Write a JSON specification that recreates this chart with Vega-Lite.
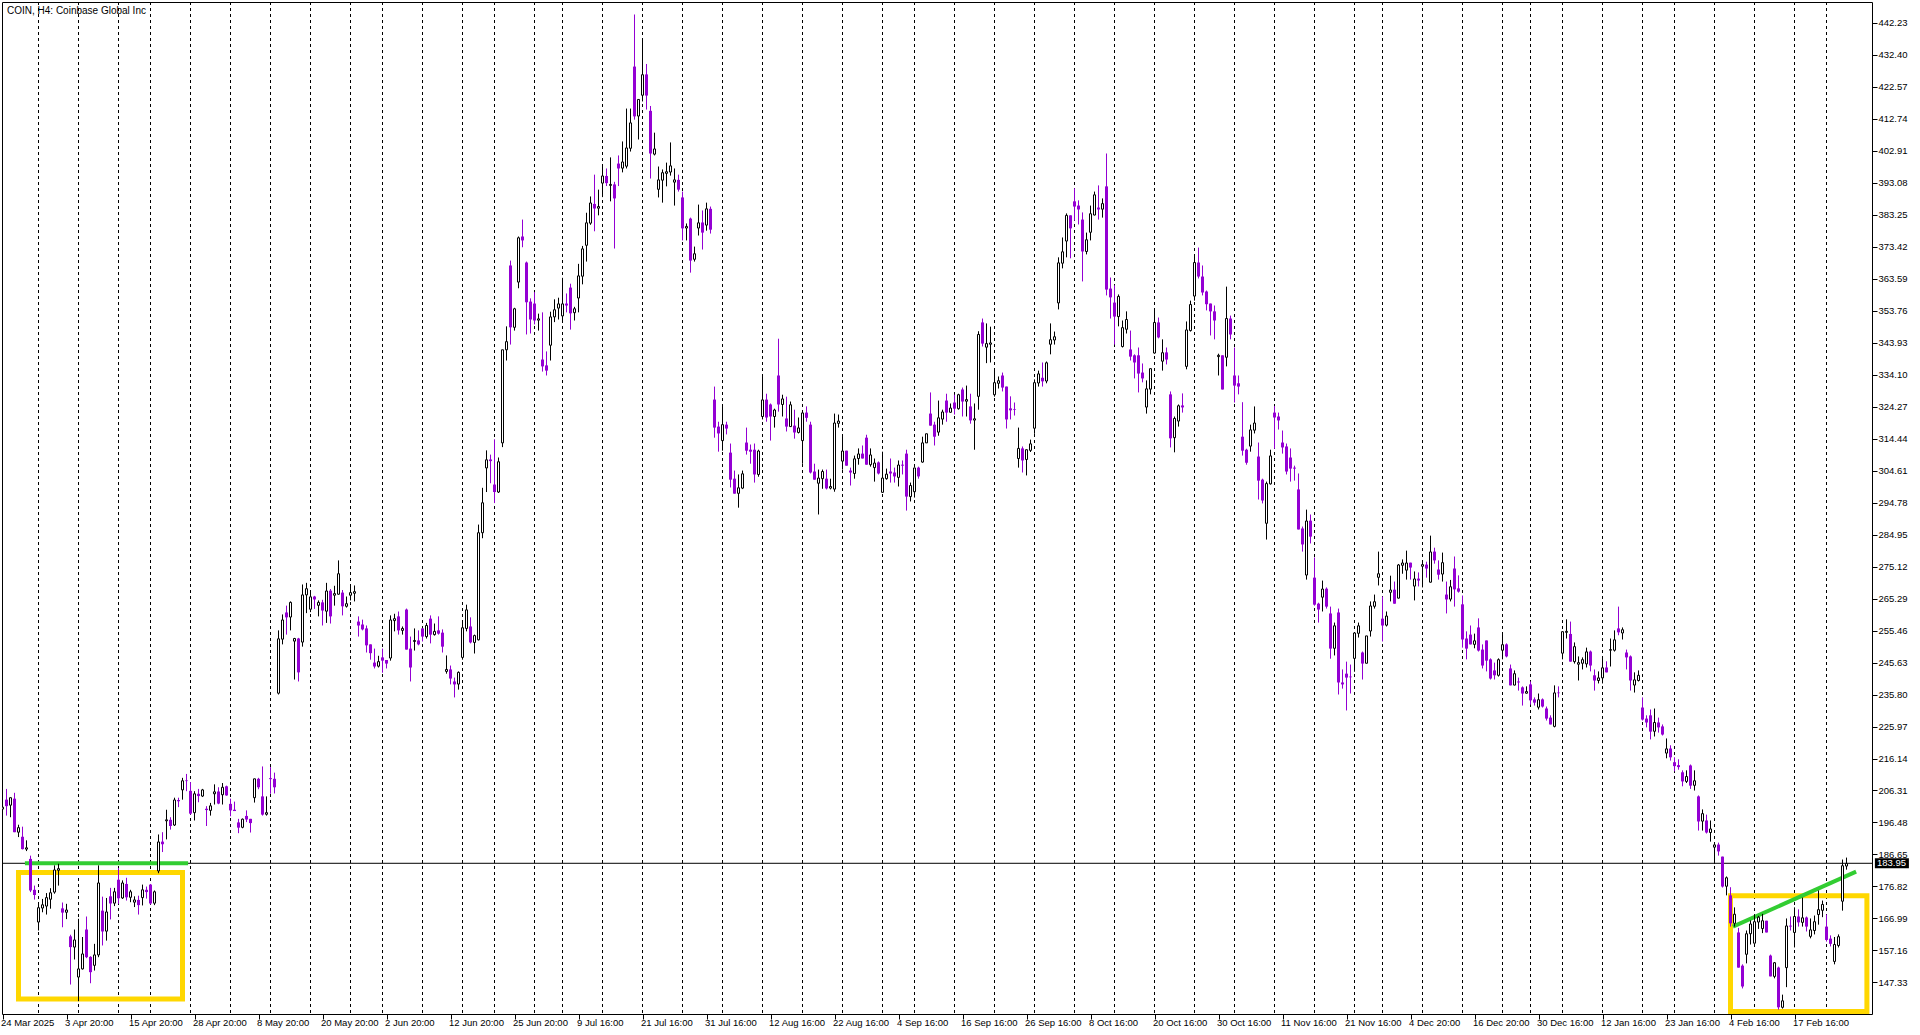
{"$schema":"https://vega.github.io/schema/vega-lite/v6.json",
"width":1870,"height":1012,"autosize":"none","padding":{"left":2,"top":2,"right":48,"bottom":21},"background":"#ffffff",
"config":{"view":{"stroke":"#000000","strokeWidth":1},"axis":{"labelOverlap":false,"labelBound":false,"labelFlush":false}},
"title":{"text":"COIN, H4:  Coinbase Global Inc","anchor":"start","frame":"group","offset":0,"dx":5,"dy":14,"font":"Liberation Sans","fontSize":10,"fontWeight":"normal","color":"#000000"},
"datasets":{"bars":[
{"i":0,"o":200.6,"h":201.4,"l":200.5,"c":201.2},{"i":1,"o":203.5,"h":206.8,"l":198.6,"c":201.5},{"i":2,"o":201.8,"h":204.1,"l":198.1,"c":204.1},{"i":3,"o":203.8,"h":205.6,"l":193.5,"c":193.5},{"i":4,"o":193.5,"h":195.8,"l":192.0,"c":194.9},{"i":5,"o":192.1,"h":195.2,"l":188.2,"c":188.3},{"i":6,"o":188.3,"h":191.0,"l":187.7,"c":188.7},{"i":7,"o":185.3,"h":186.3,"l":175.1,"c":175.6},{"i":8,"o":175.8,"h":177.1,"l":172.8,"c":174.2},{"i":9,"o":165.9,"h":171.8,"l":163.3,"c":170.3},
{"i":10,"o":170.2,"h":173.0,"l":168.9,"c":171.2},{"i":11,"o":170.8,"h":174.8,"l":168.2,"c":173.4},{"i":12,"o":172.9,"h":176.3,"l":170.0,"c":174.9},{"i":13,"o":175.1,"h":183.3,"l":174.6,"c":181.9},{"i":14,"o":181.8,"h":183.8,"l":177.1,"c":182.3},{"i":15,"o":170.1,"h":171.9,"l":164.3,"c":168.8},{"i":16,"o":168.9,"h":171.5,"l":166.8,"c":169.6},{"i":17,"o":161.5,"h":162.0,"l":146.7,"c":158.2},{"i":18,"o":158.2,"h":163.6,"l":154.4,"c":160.4},{"i":19,"o":149.0,"h":166.9,"l":141.6,"c":151.5},
{"i":20,"o":151.5,"h":161.3,"l":151.3,"c":156.1},{"i":21,"o":163.6,"h":167.6,"l":154.8,"c":155.1},{"i":22,"o":155.2,"h":155.4,"l":147.1,"c":150.5},{"i":23,"o":152.6,"h":159.2,"l":151.0,"c":155.8},{"i":24,"o":155.8,"h":183.3,"l":155.1,"c":177.9},{"i":25,"o":169.4,"h":173.7,"l":158.7,"c":163.0},{"i":26,"o":163.1,"h":173.3,"l":160.2,"c":169.0},{"i":27,"o":173.8,"h":176.4,"l":166.7,"c":171.6},{"i":28,"o":171.7,"h":176.4,"l":170.8,"c":175.2},{"i":29,"o":178.9,"h":182.5,"l":171.5,"c":173.2},
{"i":30,"o":173.3,"h":178.7,"l":173.0,"c":177.9},{"i":31,"o":177.6,"h":179.5,"l":172.5,"c":173.5},{"i":32,"o":173.5,"h":175.8,"l":172.0,"c":175.2},{"i":33,"o":172.0,"h":173.8,"l":170.5,"c":172.7},{"i":34,"o":172.7,"h":174.0,"l":168.2,"c":171.1},{"i":35,"o":173.4,"h":177.4,"l":171.0,"c":175.8},{"i":36,"o":175.8,"h":176.8,"l":173.1,"c":175.1},{"i":37,"o":177.4,"h":177.6,"l":171.3,"c":171.6},{"i":38,"o":171.7,"h":175.6,"l":171.1,"c":175.2},{"i":39,"o":181.6,"h":192.8,"l":180.9,"c":190.5},
{"i":40,"o":190.6,"h":193.5,"l":187.4,"c":189.8},{"i":41,"o":197.0,"h":200.4,"l":191.3,"c":197.3},{"i":42,"o":197.3,"h":198.1,"l":194.3,"c":195.4},{"i":43,"o":195.7,"h":204.1,"l":195.4,"c":203.4},{"i":44,"o":203.4,"h":204.1,"l":201.2,"c":203.0},{"i":45,"o":206.5,"h":210.2,"l":203.5,"c":209.3},{"i":46,"o":209.4,"h":211.4,"l":206.1,"c":209.2},{"i":47,"o":206.2,"h":208.9,"l":198.9,"c":199.2},{"i":48,"o":199.5,"h":206.1,"l":197.1,"c":205.3},{"i":49,"o":205.3,"h":206.8,"l":202.7,"c":204.6},
{"i":50,"o":204.6,"h":206.8,"l":204.3,"c":206.5},{"i":51,"o":200.7,"h":201.5,"l":195.4,"c":200.3},{"i":52,"o":200.2,"h":202.5,"l":198.6,"c":201.6},{"i":53,"o":205.3,"h":208.2,"l":202.0,"c":205.9},{"i":54,"o":206.0,"h":207.3,"l":202.1,"c":202.3},{"i":55,"o":205.0,"h":208.6,"l":202.0,"c":207.3},{"i":56,"o":207.6,"h":207.8,"l":204.7,"c":204.8},{"i":57,"o":202.2,"h":203.8,"l":198.4,"c":200.2},{"i":58,"o":200.4,"h":202.9,"l":200.0,"c":200.0},{"i":59,"o":196.5,"h":197.6,"l":193.2,"c":194.9},
{"i":60,"o":195.0,"h":197.7,"l":194.7,"c":197.5},{"i":61,"o":198.5,"h":200.2,"l":196.6,"c":197.4},{"i":62,"o":197.6,"h":197.6,"l":193.4,"c":196.3},{"i":63,"o":204.1,"h":209.9,"l":202.6,"c":209.9},{"i":64,"o":209.9,"h":210.2,"l":206.7,"c":207.3},{"i":65,"o":204.5,"h":213.7,"l":198.6,"c":198.9},{"i":66,"o":199.0,"h":204.5,"l":198.6,"c":199.5},{"i":67,"o":210.1,"h":213.5,"l":205.3,"c":209.8},{"i":68,"o":209.9,"h":211.8,"l":205.4,"c":207.3},{"i":69,"o":236.2,"h":255.5,"l":235.8,"c":252.9},
{"i":70,"o":252.8,"h":260.4,"l":251.2,"c":258.7},{"i":71,"o":261.0,"h":263.1,"l":254.2,"c":259.5},{"i":72,"o":259.6,"h":264.4,"l":255.5,"c":264.1},{"i":73,"o":252.2,"h":253.2,"l":240.4,"c":253.0},{"i":74,"o":253.0,"h":253.2,"l":239.8,"c":242.6},{"i":75,"o":251.9,"h":269.6,"l":250.5,"c":266.4},{"i":76,"o":266.4,"h":270.1,"l":260.8,"c":268.3},{"i":77,"o":262.0,"h":267.7,"l":261.1,"c":265.8},{"i":78,"o":265.9,"h":266.1,"l":262.1,"c":265.0},{"i":79,"o":263.2,"h":264.7,"l":259.8,"c":264.1},
{"i":80,"o":264.1,"h":264.9,"l":257.0,"c":261.6},{"i":81,"o":261.4,"h":270.1,"l":257.8,"c":267.6},{"i":82,"o":267.7,"h":268.2,"l":257.6,"c":259.8},{"i":83,"o":266.3,"h":269.2,"l":263.1,"c":266.8},{"i":84,"o":266.6,"h":277.0,"l":266.5,"c":272.9},{"i":85,"o":267.1,"h":267.9,"l":260.1,"c":262.9},{"i":86,"o":262.9,"h":265.9,"l":262.5,"c":263.7},{"i":87,"o":266.3,"h":269.5,"l":264.7,"c":267.1},{"i":88,"o":266.9,"h":269.3,"l":264.4,"c":267.4},{"i":89,"o":258.2,"h":259.8,"l":253.6,"c":257.0},
{"i":90,"o":257.3,"h":258.8,"l":255.5,"c":255.8},{"i":91,"o":256.1,"h":257.0,"l":248.7,"c":250.9},{"i":92,"o":251.2,"h":251.2,"l":246.5,"c":248.5},{"i":93,"o":245.6,"h":249.9,"l":243.8,"c":244.4},{"i":94,"o":244.5,"h":247.7,"l":244.1,"c":245.9},{"i":95,"o":247.2,"h":249.9,"l":242.5,"c":246.2},{"i":96,"o":246.4,"h":246.4,"l":243.8,"c":245.3},{"i":97,"o":247.0,"h":260.1,"l":246.2,"c":258.7},{"i":98,"o":258.5,"h":260.6,"l":255.2,"c":259.1},{"i":99,"o":259.8,"h":261.3,"l":254.2,"c":255.5},
{"i":100,"o":255.5,"h":256.7,"l":254.2,"c":256.1},{"i":101,"o":261.9,"h":262.2,"l":249.6,"c":249.6},{"i":102,"o":249.9,"h":253.6,"l":239.8,"c":244.1},{"i":103,"o":252.1,"h":256.1,"l":249.3,"c":252.4},{"i":104,"o":252.4,"h":255.5,"l":250.9,"c":251.2},{"i":105,"o":256.1,"h":256.1,"l":252.1,"c":253.6},{"i":106,"o":253.6,"h":257.8,"l":253.0,"c":257.0},{"i":107,"o":259.1,"h":260.1,"l":251.5,"c":254.2},{"i":108,"o":254.2,"h":257.6,"l":253.9,"c":255.2},{"i":109,"o":255.5,"h":259.8,"l":254.2,"c":254.5},
{"i":110,"o":254.8,"h":255.8,"l":248.7,"c":250.5},{"i":111,"o":242.9,"h":247.8,"l":242.2,"c":243.5},{"i":112,"o":243.5,"h":244.7,"l":238.9,"c":240.7},{"i":113,"o":239.8,"h":241.0,"l":234.9,"c":238.9},{"i":114,"o":239.0,"h":242.9,"l":237.3,"c":242.6},{"i":115,"o":247.2,"h":258.5,"l":246.5,"c":256.3},{"i":116,"o":256.1,"h":263.4,"l":255.2,"c":261.8},{"i":117,"o":256.7,"h":259.5,"l":251.5,"c":251.8},{"i":118,"o":251.8,"h":254.2,"l":248.4,"c":253.9},{"i":119,"o":252.6,"h":288.0,"l":252.4,"c":285.5},
{"i":120,"o":285.5,"h":299.3,"l":283.8,"c":294.7},{"i":121,"o":305.4,"h":310.8,"l":298.0,"c":307.9},{"i":122,"o":308.0,"h":309.5,"l":300.7,"c":307.5},{"i":123,"o":300.3,"h":314.2,"l":294.6,"c":298.0},{"i":124,"o":298.0,"h":308.6,"l":297.7,"c":307.3},{"i":125,"o":313.1,"h":341.7,"l":311.8,"c":341.7},{"i":126,"o":341.7,"h":348.9,"l":338.4,"c":344.2},{"i":127,"o":367.6,"h":369.1,"l":343.3,"c":348.6},{"i":128,"o":348.6,"h":354.6,"l":347.6,"c":354.3},{"i":129,"o":362.5,"h":376.5,"l":360.6,"c":376.1},
{"i":130,"o":376.5,"h":381.7,"l":373.2,"c":375.3},{"i":131,"o":368.5,"h":368.8,"l":346.4,"c":356.3},{"i":132,"o":356.5,"h":357.5,"l":346.7,"c":351.0},{"i":133,"o":355.9,"h":359.4,"l":349.5,"c":350.7},{"i":134,"o":350.8,"h":352.8,"l":347.6,"c":351.2},{"i":135,"o":338.7,"h":353.2,"l":335.0,"c":336.6},{"i":136,"o":336.9,"h":341.2,"l":333.8,"c":335.3},{"i":137,"o":343.1,"h":353.4,"l":338.4,"c":351.8},{"i":138,"o":351.8,"h":357.2,"l":350.2,"c":354.0},{"i":139,"o":354.5,"h":357.7,"l":351.0,"c":355.8},
{"i":140,"o":352.1,"h":363.8,"l":350.0,"c":355.8},{"i":141,"o":355.9,"h":359.0,"l":353.2,"c":355.3},{"i":142,"o":360.8,"h":362.0,"l":347.9,"c":352.9},{"i":143,"o":353.1,"h":354.9,"l":350.7,"c":354.3},{"i":144,"o":357.6,"h":368.1,"l":353.2,"c":364.4},{"i":145,"o":364.3,"h":373.6,"l":361.8,"c":372.7},{"i":146,"o":373.8,"h":383.8,"l":368.8,"c":380.7},{"i":147,"o":380.6,"h":388.8,"l":380.1,"c":386.8},{"i":148,"o":386.5,"h":395.5,"l":378.1,"c":385.1},{"i":149,"o":385.2,"h":390.9,"l":383.0,"c":385.7},
{"i":150,"o":392.9,"h":398.6,"l":388.6,"c":395.1},{"i":151,"o":395.1,"h":397.4,"l":392.0,"c":392.9},{"i":152,"o":392.2,"h":400.8,"l":387.3,"c":392.5},{"i":153,"o":392.5,"h":393.3,"l":372.8,"c":388.2},{"i":154,"o":398.9,"h":401.4,"l":392.0,"c":397.4},{"i":155,"o":397.5,"h":405.7,"l":396.2,"c":399.4},{"i":156,"o":398.1,"h":415.8,"l":397.4,"c":403.7},{"i":157,"o":403.6,"h":415.8,"l":402.6,"c":411.4},{"i":158,"o":428.7,"h":444.7,"l":412.4,"c":413.4},{"i":159,"o":413.5,"h":418.6,"l":406.3,"c":418.6},
{"i":160,"o":419.9,"h":437.3,"l":418.0,"c":426.2},{"i":161,"o":426.3,"h":429.5,"l":415.5,"c":419.8},{"i":162,"o":415.1,"h":416.6,"l":394.3,"c":402.0},{"i":163,"o":401.8,"h":408.4,"l":401.4,"c":403.4},{"i":164,"o":391.0,"h":398.0,"l":388.5,"c":393.9},{"i":165,"o":393.8,"h":397.1,"l":386.9,"c":396.1},{"i":166,"o":395.9,"h":399.2,"l":391.9,"c":396.4},{"i":167,"o":396.3,"h":405.4,"l":395.2,"c":398.2},{"i":168,"o":393.2,"h":397.4,"l":386.0,"c":393.9},{"i":169,"o":393.9,"h":395.5,"l":390.3,"c":390.9},
{"i":170,"o":388.5,"h":390.3,"l":375.3,"c":379.0},{"i":171,"o":379.1,"h":380.5,"l":375.3,"c":379.6},{"i":172,"o":382.0,"h":382.3,"l":365.4,"c":369.1},{"i":173,"o":369.5,"h":373.4,"l":368.8,"c":371.2},{"i":174,"o":379.1,"h":386.3,"l":376.8,"c":380.7},{"i":175,"o":380.8,"h":384.5,"l":372.5,"c":377.7},{"i":176,"o":380.0,"h":386.9,"l":378.3,"c":385.0},{"i":177,"o":385.0,"h":385.7,"l":377.4,"c":378.6},{"i":178,"o":326.4,"h":330.4,"l":314.7,"c":317.8},{"i":179,"o":318.1,"h":319.6,"l":310.4,"c":316.0},
{"i":180,"o":313.8,"h":324.9,"l":310.7,"c":318.7},{"i":181,"o":318.7,"h":319.6,"l":315.7,"c":317.5},{"i":182,"o":310.1,"h":312.9,"l":299.4,"c":301.8},{"i":183,"o":302.1,"h":304.6,"l":297.5,"c":297.5},{"i":184,"o":297.6,"h":303.4,"l":293.2,"c":299.3},{"i":185,"o":299.2,"h":304.6,"l":298.9,"c":303.6},{"i":186,"o":313.2,"h":317.8,"l":309.5,"c":310.7},{"i":187,"o":311.0,"h":312.6,"l":306.7,"c":310.4},{"i":188,"o":311.0,"h":312.9,"l":300.9,"c":303.4},{"i":189,"o":303.4,"h":311.0,"l":302.7,"c":310.6},
{"i":190,"o":321.2,"h":334.1,"l":320.3,"c":326.3},{"i":191,"o":326.4,"h":328.2,"l":319.6,"c":320.9},{"i":192,"o":324.9,"h":325.2,"l":313.8,"c":321.2},{"i":193,"o":321.2,"h":323.6,"l":317.8,"c":323.2},{"i":194,"o":333.8,"h":345.1,"l":322.7,"c":324.9},{"i":195,"o":324.9,"h":327.9,"l":321.2,"c":326.6},{"i":196,"o":320.6,"h":327.3,"l":316.6,"c":318.1},{"i":197,"o":318.1,"h":325.8,"l":318.1,"c":324.8},{"i":198,"o":318.4,"h":323.3,"l":314.4,"c":316.3},{"i":199,"o":316.3,"h":320.9,"l":316.0,"c":317.7},
{"i":200,"o":313.8,"h":322.7,"l":306.7,"c":322.3},{"i":201,"o":322.4,"h":324.3,"l":319.6,"c":320.8},{"i":202,"o":318.7,"h":319.6,"l":303.7,"c":304.0},{"i":203,"o":304.3,"h":306.7,"l":301.8,"c":301.8},{"i":204,"o":300.7,"h":304.9,"l":291.1,"c":302.3},{"i":205,"o":302.1,"h":304.9,"l":299.0,"c":304.3},{"i":206,"o":302.1,"h":304.9,"l":298.8,"c":299.1},{"i":207,"o":299.2,"h":302.1,"l":298.8,"c":299.7},{"i":208,"o":298.9,"h":322.1,"l":298.1,"c":319.2},{"i":209,"o":319.1,"h":321.8,"l":317.8,"c":319.8},
{"i":210,"o":307.5,"h":315.7,"l":304.9,"c":310.6},{"i":211,"o":310.7,"h":310.7,"l":306.1,"c":306.1},{"i":212,"o":304.6,"h":305.5,"l":300.0,"c":304.0},{"i":213,"o":303.7,"h":309.2,"l":302.1,"c":308.2},{"i":214,"o":308.3,"h":311.4,"l":306.4,"c":309.7},{"i":215,"o":309.8,"h":312.3,"l":308.3,"c":308.3},{"i":216,"o":314.7,"h":315.6,"l":306.4,"c":306.4},{"i":217,"o":306.4,"h":311.4,"l":305.8,"c":309.4},{"i":218,"o":305.5,"h":308.3,"l":301.2,"c":306.9},{"i":219,"o":307.1,"h":307.4,"l":303.4,"c":303.7},
{"i":220,"o":297.9,"h":310.4,"l":297.8,"c":302.3},{"i":221,"o":302.1,"h":305.2,"l":301.8,"c":303.5},{"i":222,"o":304.3,"h":308.3,"l":300.9,"c":303.7},{"i":223,"o":304.0,"h":305.5,"l":300.9,"c":302.8},{"i":224,"o":302.5,"h":307.7,"l":299.7,"c":306.3},{"i":225,"o":306.4,"h":307.7,"l":303.4,"c":306.1},{"i":226,"o":309.8,"h":311.0,"l":292.3,"c":296.6},{"i":227,"o":296.6,"h":300.9,"l":295.1,"c":300.0},{"i":228,"o":298.1,"h":305.5,"l":296.3,"c":305.4},{"i":229,"o":305.5,"h":305.8,"l":302.1,"c":302.8},
{"i":230,"o":307.2,"h":315.0,"l":307.0,"c":313.1},{"i":231,"o":313.1,"h":315.9,"l":313.1,"c":315.9},{"i":232,"o":322.1,"h":328.6,"l":318.4,"c":318.4},{"i":233,"o":318.7,"h":319.6,"l":312.3,"c":315.0},{"i":234,"o":316.4,"h":326.1,"l":315.3,"c":320.8},{"i":235,"o":320.4,"h":323.3,"l":318.7,"c":322.6},{"i":236,"o":326.1,"h":328.2,"l":319.6,"c":322.4},{"i":237,"o":322.5,"h":325.2,"l":322.4,"c":323.8},{"i":238,"o":325.5,"h":327.9,"l":321.8,"c":323.6},{"i":239,"o":323.6,"h":328.2,"l":323.3,"c":327.9},
{"i":240,"o":329.5,"h":330.1,"l":321.2,"c":325.8},{"i":241,"o":325.9,"h":330.7,"l":321.2,"c":326.4},{"i":242,"o":324.3,"h":328.2,"l":319.0,"c":320.0},{"i":243,"o":320.1,"h":325.2,"l":311.0,"c":320.5},{"i":244,"o":327.4,"h":347.4,"l":323.3,"c":346.4},{"i":245,"o":350.1,"h":351.3,"l":342.7,"c":343.6},{"i":246,"o":342.5,"h":349.8,"l":337.6,"c":343.6},{"i":247,"o":343.4,"h":348.8,"l":337.8,"c":343.8},{"i":248,"o":327.9,"h":335.9,"l":327.3,"c":331.6},{"i":249,"o":331.4,"h":333.5,"l":329.8,"c":332.2},
{"i":250,"o":333.8,"h":334.7,"l":328.9,"c":330.1},{"i":251,"o":330.4,"h":330.4,"l":317.5,"c":320.3},{"i":252,"o":323.7,"h":327.4,"l":320.3,"c":323.1},{"i":253,"o":323.4,"h":325.5,"l":321.5,"c":323.2},{"i":254,"o":308.3,"h":317.8,"l":305.5,"c":311.4},{"i":255,"o":311.4,"h":312.0,"l":304.0,"c":307.7},{"i":256,"o":308.0,"h":311.0,"l":303.1,"c":311.0},{"i":257,"o":310.8,"h":314.1,"l":310.3,"c":312.8},{"i":258,"o":317.6,"h":332.6,"l":315.9,"c":331.6},{"i":259,"o":331.5,"h":335.3,"l":330.4,"c":334.3},
{"i":260,"o":333.1,"h":337.8,"l":330.4,"c":332.0},{"i":261,"o":332.1,"h":338.1,"l":331.4,"c":337.7},{"i":262,"o":343.4,"h":349.8,"l":340.3,"c":344.8},{"i":263,"o":344.7,"h":347.3,"l":343.3,"c":345.7},{"i":264,"o":356.1,"h":370.1,"l":354.1,"c":368.4},{"i":265,"o":368.3,"h":376.2,"l":366.7,"c":371.8},{"i":266,"o":375.1,"h":383.6,"l":370.1,"c":383.0},{"i":267,"o":383.0,"h":383.0,"l":369.8,"c":379.0},{"i":268,"o":387.3,"h":391.3,"l":381.4,"c":385.7},{"i":269,"o":386.0,"h":387.6,"l":380.2,"c":384.8},
{"i":270,"o":381.7,"h":383.9,"l":362.7,"c":371.9},{"i":271,"o":371.9,"h":377.7,"l":371.0,"c":375.5},{"i":272,"o":377.8,"h":386.0,"l":375.3,"c":383.5},{"i":273,"o":383.1,"h":390.3,"l":383.0,"c":389.3},{"i":274,"o":385.4,"h":392.2,"l":381.7,"c":384.8},{"i":275,"o":384.9,"h":388.2,"l":382.3,"c":386.6},{"i":276,"o":391.9,"h":402.0,"l":358.4,"c":360.2},{"i":277,"o":360.5,"h":363.9,"l":351.3,"c":357.8},{"i":278,"o":356.2,"h":361.5,"l":343.3,"c":351.9},{"i":279,"o":351.9,"h":358.7,"l":348.9,"c":358.1},
{"i":280,"o":342.7,"h":350.7,"l":342.4,"c":348.5},{"i":281,"o":348.0,"h":353.5,"l":346.7,"c":351.0},{"i":282,"o":341.8,"h":347.6,"l":338.4,"c":339.6},{"i":283,"o":340.0,"h":340.3,"l":332.9,"c":337.8},{"i":284,"o":340.0,"h":342.4,"l":328.6,"c":334.4},{"i":285,"o":334.7,"h":337.5,"l":331.7,"c":332.9},{"i":286,"o":324.1,"h":332.3,"l":322.1,"c":329.7},{"i":287,"o":329.6,"h":336.0,"l":328.0,"c":335.9},{"i":288,"o":340.7,"h":354.4,"l":340.5,"c":350.1},{"i":289,"o":350.1,"h":351.6,"l":345.2,"c":345.5},
{"i":290,"o":338.2,"h":344.9,"l":335.3,"c":340.8},{"i":291,"o":340.9,"h":342.4,"l":337.2,"c":338.7},{"i":292,"o":328.0,"h":328.9,"l":311.7,"c":314.5},{"i":293,"o":314.7,"h":321.2,"l":310.2,"c":320.6},{"i":294,"o":319.8,"h":324.9,"l":318.1,"c":324.5},{"i":295,"o":324.6,"h":328.3,"l":322.4,"c":324.0},{"i":296,"o":336.6,"h":350.4,"l":335.7,"c":347.8},{"i":297,"o":347.6,"h":356.8,"l":347.3,"c":355.6},{"i":298,"o":358.2,"h":371.0,"l":356.8,"c":368.5},{"i":299,"o":368.5,"h":373.1,"l":363.6,"c":364.2},
{"i":300,"o":364.2,"h":367.6,"l":358.4,"c":359.3},{"i":301,"o":359.6,"h":359.9,"l":353.8,"c":355.7},{"i":302,"o":355.9,"h":355.9,"l":346.1,"c":353.5},{"i":303,"o":353.5,"h":355.3,"l":344.9,"c":350.7},{"i":304,"o":339.6,"h":340.5,"l":333.8,"c":340.0},{"i":305,"o":340.0,"h":340.0,"l":329.5,"c":329.5},{"i":306,"o":339.4,"h":361.1,"l":336.6,"c":351.3},{"i":307,"o":351.3,"h":352.2,"l":344.9,"c":346.4},{"i":308,"o":333.8,"h":342.4,"l":325.5,"c":330.7},{"i":309,"o":331.4,"h":333.8,"l":328.0,"c":330.4},
{"i":310,"o":315.0,"h":325.6,"l":309.2,"c":310.7},{"i":311,"o":311.0,"h":311.3,"l":306.4,"c":307.0},{"i":312,"o":312.1,"h":318.7,"l":310.4,"c":317.1},{"i":313,"o":317.0,"h":324.3,"l":316.0,"c":319.2},{"i":314,"o":308.9,"h":313.2,"l":295.7,"c":301.5},{"i":315,"o":301.8,"h":302.1,"l":294.5,"c":295.4},{"i":316,"o":288.4,"h":301.2,"l":283.4,"c":300.6},{"i":317,"o":300.5,"h":311.0,"l":300.3,"c":309.1},{"i":318,"o":322.4,"h":324.4,"l":311.3,"c":320.9},{"i":319,"o":321.2,"h":322.4,"l":317.2,"c":320.0},
{"i":320,"o":313.2,"h":316.9,"l":309.8,"c":311.7},{"i":321,"o":312.0,"h":312.9,"l":303.4,"c":304.3},{"i":322,"o":308.6,"h":311.4,"l":301.2,"c":305.2},{"i":323,"o":305.5,"h":306.1,"l":301.5,"c":305.2},{"i":324,"o":298.8,"h":303.7,"l":286.5,"c":286.5},{"i":325,"o":286.8,"h":287.4,"l":279.7,"c":281.9},{"i":326,"o":272.5,"h":292.6,"l":271.1,"c":289.1},{"i":327,"o":289.2,"h":291.1,"l":282.2,"c":284.3},{"i":328,"o":271.7,"h":277.9,"l":263.1,"c":263.4},{"i":329,"o":263.7,"h":264.0,"l":257.9,"c":261.9},
{"i":330,"o":265.7,"h":270.8,"l":261.3,"c":268.2},{"i":331,"o":268.3,"h":268.7,"l":262.2,"c":262.8},{"i":332,"o":260.7,"h":262.8,"l":246.8,"c":249.9},{"i":333,"o":250.0,"h":257.9,"l":247.8,"c":256.9},{"i":334,"o":261.0,"h":262.2,"l":235.8,"c":239.5},{"i":335,"o":239.5,"h":243.5,"l":237.6,"c":238.9},{"i":336,"o":242.2,"h":245.9,"l":230.9,"c":241.0},{"i":337,"o":241.3,"h":245.0,"l":236.1,"c":241.1},{"i":338,"o":246.9,"h":254.9,"l":242.8,"c":254.7},{"i":339,"o":254.6,"h":257.9,"l":253.3,"c":256.9},
{"i":340,"o":248.7,"h":249.0,"l":240.4,"c":245.3},{"i":341,"o":245.4,"h":253.8,"l":245.4,"c":253.8},{"i":342,"o":255.3,"h":264.4,"l":253.6,"c":263.0},{"i":343,"o":262.9,"h":266.5,"l":262.2,"c":264.3},{"i":344,"o":271.8,"h":279.7,"l":269.3,"c":272.9},{"i":345,"o":259.1,"h":265.9,"l":252.1,"c":257.0},{"i":346,"o":257.1,"h":261.3,"l":256.7,"c":259.9},{"i":347,"o":267.2,"h":272.3,"l":264.4,"c":267.9},{"i":348,"o":268.0,"h":270.5,"l":263.7,"c":263.7},{"i":349,"o":265.4,"h":275.9,"l":265.3,"c":275.6},
{"i":350,"o":275.5,"h":277.3,"l":272.9,"c":276.2},{"i":351,"o":274.0,"h":280.0,"l":271.1,"c":276.2},{"i":352,"o":276.3,"h":276.3,"l":271.1,"c":274.8},{"i":353,"o":269.1,"h":273.6,"l":264.7,"c":271.3},{"i":354,"o":271.4,"h":273.3,"l":269.0,"c":270.8},{"i":355,"o":275.2,"h":277.0,"l":268.7,"c":275.7},{"i":356,"o":275.7,"h":276.6,"l":271.7,"c":274.5},{"i":357,"o":270.3,"h":284.6,"l":270.2,"c":279.6},{"i":358,"o":279.7,"h":280.9,"l":276.0,"c":277.0},{"i":359,"o":274.2,"h":277.0,"l":271.1,"c":272.6},
{"i":360,"o":272.8,"h":279.4,"l":270.5,"c":276.3},{"i":361,"o":266.5,"h":270.5,"l":260.7,"c":265.0},{"i":362,"o":265.1,"h":271.0,"l":264.4,"c":268.9},{"i":363,"o":274.5,"h":278.2,"l":262.8,"c":268.1},{"i":364,"o":268.4,"h":272.4,"l":267.1,"c":267.4},{"i":365,"o":263.5,"h":266.2,"l":250.2,"c":252.7},{"i":366,"o":253.0,"h":255.2,"l":246.6,"c":249.9},{"i":367,"o":254.2,"h":257.0,"l":251.2,"c":251.2},{"i":368,"o":251.2,"h":254.5,"l":250.0,"c":252.3},{"i":369,"o":256.4,"h":259.2,"l":249.0,"c":249.3},
{"i":370,"o":249.6,"h":251.2,"l":243.8,"c":244.7},{"i":371,"o":252.4,"h":252.4,"l":242.9,"c":246.2},{"i":372,"o":246.6,"h":246.9,"l":240.4,"c":240.7},{"i":373,"o":243.2,"h":245.6,"l":240.4,"c":241.7},{"i":374,"o":241.7,"h":246.9,"l":241.3,"c":246.5},{"i":375,"o":249.4,"h":254.9,"l":246.6,"c":251.1},{"i":376,"o":251.2,"h":251.5,"l":247.2,"c":247.5},{"i":377,"o":243.8,"h":245.0,"l":238.6,"c":238.6},{"i":378,"o":238.7,"h":243.2,"l":238.6,"c":242.2},{"i":379,"o":239.8,"h":241.0,"l":237.0,"c":239.5},
{"i":380,"o":238.0,"h":238.3,"l":232.4,"c":236.1},{"i":381,"o":236.2,"h":238.3,"l":236.1,"c":236.7},{"i":382,"o":238.9,"h":239.8,"l":232.7,"c":234.0},{"i":383,"o":234.3,"h":234.9,"l":232.4,"c":233.3},{"i":384,"o":231.9,"h":236.1,"l":231.2,"c":234.2},{"i":385,"o":234.3,"h":234.6,"l":231.8,"c":232.1},{"i":386,"o":231.5,"h":232.1,"l":227.8,"c":228.4},{"i":387,"o":228.7,"h":229.4,"l":226.6,"c":226.6},{"i":388,"o":226.0,"h":238.6,"l":225.7,"c":236.3},{"i":389,"o":236.4,"h":238.3,"l":234.9,"c":236.2},
{"i":390,"o":248.5,"h":255.1,"l":246.6,"c":255.1},{"i":391,"o":254.9,"h":258.9,"l":253.0,"c":255.2},{"i":392,"o":254.4,"h":258.2,"l":245.9,"c":245.9},{"i":393,"o":245.9,"h":251.8,"l":245.3,"c":250.5},{"i":394,"o":245.1,"h":247.5,"l":240.1,"c":245.6},{"i":395,"o":245.4,"h":247.2,"l":243.5,"c":246.5},{"i":396,"o":245.2,"h":250.2,"l":244.1,"c":248.9},{"i":397,"o":249.0,"h":249.3,"l":242.9,"c":244.7},{"i":398,"o":241.7,"h":243.5,"l":237.0,"c":240.1},{"i":399,"o":240.1,"h":242.9,"l":239.2,"c":240.9},
{"i":400,"o":240.9,"h":247.5,"l":239.2,"c":244.0},{"i":401,"o":244.1,"h":246.0,"l":242.6,"c":242.6},{"i":402,"o":249.4,"h":253.0,"l":244.4,"c":249.6},{"i":403,"o":249.4,"h":255.5,"l":249.0,"c":252.6},{"i":404,"o":256.1,"h":262.8,"l":254.0,"c":254.9},{"i":405,"o":254.7,"h":256.4,"l":252.7,"c":255.7},{"i":406,"o":248.7,"h":249.6,"l":243.5,"c":247.2},{"i":407,"o":247.5,"h":247.8,"l":237.0,"c":240.1},{"i":408,"o":238.7,"h":242.6,"l":236.4,"c":240.3},{"i":409,"o":240.1,"h":243.2,"l":239.8,"c":241.7},
{"i":410,"o":231.8,"h":234.9,"l":227.8,"c":228.1},{"i":411,"o":228.4,"h":229.4,"l":225.7,"c":227.2},{"i":412,"o":229.4,"h":231.2,"l":222.0,"c":224.4},{"i":413,"o":224.5,"h":231.5,"l":222.9,"c":227.2},{"i":414,"o":227.2,"h":228.7,"l":224.1,"c":225.7},{"i":415,"o":226.0,"h":226.6,"l":223.2,"c":223.5},{"i":416,"o":217.8,"h":222.3,"l":216.2,"c":219.1},{"i":417,"o":219.2,"h":220.2,"l":215.5,"c":216.5},{"i":418,"o":215.0,"h":216.5,"l":212.2,"c":213.8},{"i":419,"o":214.1,"h":215.9,"l":212.7,"c":213.5},
{"i":420,"o":211.9,"h":212.5,"l":207.6,"c":209.1},{"i":421,"o":209.1,"h":212.5,"l":208.6,"c":210.6},{"i":422,"o":214.0,"h":214.3,"l":206.8,"c":207.8},{"i":423,"o":207.9,"h":212.5,"l":206.3,"c":209.3},{"i":424,"o":204.5,"h":204.8,"l":194.0,"c":196.8},{"i":425,"o":196.9,"h":200.5,"l":194.0,"c":199.2},{"i":426,"o":197.1,"h":198.9,"l":193.1,"c":193.4},{"i":427,"o":193.4,"h":197.1,"l":190.6,"c":194.5},{"i":428,"o":188.9,"h":189.9,"l":183.8,"c":189.6},{"i":429,"o":189.7,"h":190.3,"l":186.3,"c":187.6},
{"i":430,"o":186.0,"h":186.0,"l":176.5,"c":176.8},{"i":431,"o":176.9,"h":179.9,"l":174.1,"c":179.5},{"i":432,"o":174.1,"h":176.6,"l":164.5,"c":165.5},{"i":433,"o":165.5,"h":170.4,"l":164.5,"c":168.3},{"i":434,"o":162.7,"h":164.1,"l":151.9,"c":151.9},{"i":435,"o":152.5,"h":152.9,"l":145.5,"c":146.1},{"i":436,"o":156.0,"h":163.3,"l":153.2,"c":162.3},{"i":437,"o":162.3,"h":166.4,"l":159.0,"c":165.3},{"i":438,"o":159.4,"h":168.2,"l":159.3,"c":166.0},{"i":439,"o":165.9,"h":167.8,"l":163.8,"c":167.4},
{"i":440,"o":163.9,"h":168.4,"l":162.5,"c":166.3},{"i":441,"o":166.3,"h":166.3,"l":162.7,"c":162.7},{"i":442,"o":155.6,"h":155.9,"l":149.2,"c":149.2},{"i":443,"o":149.2,"h":153.6,"l":148.6,"c":153.4},{"i":444,"o":151.9,"h":152.2,"l":139.0,"c":139.7},{"i":445,"o":139.7,"h":143.6,"l":139.3,"c":141.7},{"i":446,"o":151.9,"h":167.0,"l":145.9,"c":164.7},{"i":447,"o":164.8,"h":167.6,"l":163.3,"c":164.5},{"i":448,"o":162.7,"h":170.4,"l":158.1,"c":167.6},{"i":449,"o":167.6,"h":169.8,"l":164.5,"c":165.8},
{"i":450,"o":165.8,"h":173.4,"l":164.5,"c":167.2},{"i":451,"o":167.3,"h":167.6,"l":163.0,"c":164.5},{"i":452,"o":161.5,"h":167.0,"l":160.9,"c":163.5},{"i":453,"o":163.3,"h":167.9,"l":162.1,"c":166.0},{"i":454,"o":168.2,"h":175.6,"l":165.1,"c":169.7},{"i":455,"o":169.5,"h":172.5,"l":167.4,"c":171.3},{"i":456,"o":164.5,"h":168.2,"l":159.9,"c":160.4},{"i":457,"o":160.8,"h":161.8,"l":158.4,"c":159.2},{"i":458,"o":153.8,"h":161.3,"l":152.9,"c":159.0},{"i":459,"o":158.7,"h":162.1,"l":158.1,"c":161.4},
{"i":460,"o":172.3,"h":185.1,"l":169.4,"c":183.2},{"i":461,"o":183.1,"h":185.7,"l":182.0,"c":183.9}
]},
"layer":[
{"data":{"values":[{"i":9},{"i":19},{"i":29},{"i":37},{"i":47},{"i":57},{"i":67},{"i":77},{"i":87},{"i":95},{"i":105},{"i":115},{"i":123},{"i":133},{"i":140},{"i":150},{"i":160},{"i":170},{"i":180},{"i":190},{"i":200},{"i":210},{"i":220},{"i":228},{"i":238},{"i":248},{"i":258},{"i":268},{"i":278},{"i":288},{"i":298},{"i":308},{"i":318},{"i":328},{"i":338},{"i":345},{"i":355},{"i":365},{"i":375},{"i":382},{"i":390},{"i":400},{"i":410},{"i":418},{"i":428},{"i":438},{"i":448},{"i":456}]},
"mark":{"type":"rule","color":"#000000","strokeWidth":1,"strokeDash":[3,3]},
"encoding":{"x":{"field":"i","type":"quantitative","scale":{"domain":[-0.125,467.375],"padding":0},
"axis":{"title":null,"grid":false,"domain":false,"tickCount":40,"values":[0,16,32,48,64,80,96,112,128,144,160,176,192,208,224,240,256,272,288,304,320,336,352,368,384,400,416,432,448],"labelExpr":"['24 Mar 2025','3 Apr 20:00','15 Apr 20:00','28 Apr 20:00','8 May 20:00','20 May 20:00','2 Jun 20:00','12 Jun 20:00','25 Jun 20:00','9 Jul 16:00','21 Jul 16:00','31 Jul 16:00','12 Aug 16:00','22 Aug 16:00','4 Sep 16:00','16 Sep 16:00','26 Sep 16:00','8 Oct 16:00','20 Oct 16:00','30 Oct 16:00','11 Nov 16:00','21 Nov 16:00','4 Dec 20:00','16 Dec 20:00','30 Dec 16:00','12 Jan 16:00','23 Jan 16:00','4 Feb 16:00','17 Feb 16:00'][datum.value/16]","labelAlign":"left","labelBaseline":"top","labelPadding":-2,"labelOffset":-2,"tickSize":5,"tickColor":"#000000","labelColor":"#000000","labelFont":"Liberation Sans","labelFontSize":9.5}}}},
{"data":{"values":[{"p":183.95}]},
"mark":{"type":"rule","color":"#000000","strokeWidth":1},
"encoding":{"y":{"field":"p","type":"quantitative","scale":{"domain":[137.65,448.54]},
"axis":{"orient":"right","title":null,"grid":false,"domain":false,"tickCount":40,"values":[147.33,157.16,166.99,176.82,186.65,196.48,206.31,216.14,225.97,235.80,245.63,255.46,265.29,275.12,284.95,294.78,304.61,314.44,324.27,334.10,343.93,353.76,363.59,373.42,383.25,393.08,402.91,412.74,422.57,432.40,442.23],"format":".2f","labelPadding":1,"tickSize":5,"tickColor":"#000000","labelColor":"#000000","labelFont":"Liberation Sans","labelFontSize":9.5}}}},
{"data":{"values":[{"x0":4.0,"x1":45.0,"p0":181.1,"p1":142.26},{"x0":432.0,"x1":466.1,"p0":174.0,"p1":138.42}]},
"mark":{"type":"rect","fill":null,"stroke":"#FFD700","strokeWidth":5},
"encoding":{"x":{"field":"x0","type":"quantitative","scale":{"domain":[-0.125,467.375],"padding":0}},"x2":{"field":"x1"},"y":{"field":"p0","type":"quantitative","scale":{"domain":[137.65,448.54]}},"y2":{"field":"p1"}}},
{"data":{"values":[{"g":"a","i":5.6,"p":183.98},{"g":"a","i":46.4,"p":183.98},{"g":"b","i":432.6,"p":164.47},{"g":"b","i":463.4,"p":181.37}]},
"mark":{"type":"line","color":"#32CD32","strokeWidth":4},
"encoding":{"x":{"field":"i","type":"quantitative","scale":{"domain":[-0.125,467.375],"padding":0}},"y":{"field":"p","type":"quantitative","scale":{"domain":[137.65,448.54]}},"detail":{"field":"g"}}},
{"data":{"name":"bars"},
"mark":{"type":"rule","strokeWidth":1,"clip":true},
"encoding":{"x":{"field":"i","type":"quantitative","scale":{"domain":[-0.125,467.375],"padding":0}},"y":{"field":"h","type":"quantitative","scale":{"domain":[137.65,448.54]}},"y2":{"field":"l"},"color":{"condition":{"test":"datum.c>=datum.o","value":"#000000"},"value":"#9400D3"}}},
{"data":{"name":"bars"},"transform":[{"filter":"datum.c<datum.o"}],
"mark":{"type":"bar","size":3,"orient":"vertical","fill":"#9400D3","clip":true},
"encoding":{"x":{"field":"i","type":"quantitative","scale":{"domain":[-0.125,467.375],"padding":0}},"y":{"field":"o","type":"quantitative","scale":{"domain":[137.65,448.54]}},"y2":{"field":"c"}}},
{"data":{"name":"bars"},"transform":[{"filter":"datum.c>=datum.o"}],
"mark":{"type":"bar","size":2,"orient":"vertical","fill":"#ffffff","stroke":"#000000","strokeWidth":1,"clip":true},
"encoding":{"x":{"field":"i","type":"quantitative","scale":{"domain":[-0.125,467.375],"padding":0}},"y":{"field":"o","type":"quantitative","scale":{"domain":[137.65,448.54]}},"y2":{"field":"c"}}},
{"data":{"values":[{"x0":468.1,"x1":476.6,"p0":185.5,"p1":182.4}]},
"mark":{"type":"rect","fill":"#000000"},
"encoding":{"x":{"field":"x0","type":"quantitative","scale":{"domain":[-0.125,467.375],"padding":0}},"x2":{"field":"x1"},"y":{"field":"p0","type":"quantitative","scale":{"domain":[137.65,448.54]}},"y2":{"field":"p1"}}},
{"data":{"values":[{"i":468.6,"p":183.95}]},
"mark":{"type":"text","align":"left","baseline":"middle","color":"#ffffff","font":"Liberation Sans","fontSize":9.5},
"encoding":{"x":{"field":"i","type":"quantitative","scale":{"domain":[-0.125,467.375],"padding":0}},"y":{"field":"p","type":"quantitative","scale":{"domain":[137.65,448.54]}},"text":{"field":"p","type":"quantitative","format":".2f"}}}
]}
